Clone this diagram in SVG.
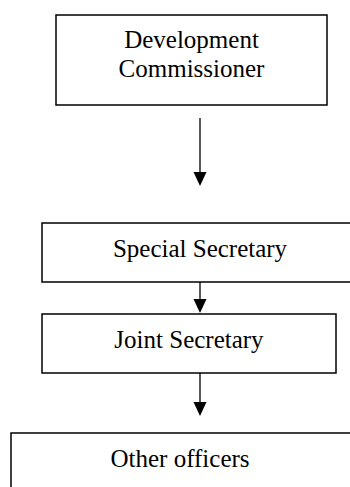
<svg xmlns="http://www.w3.org/2000/svg" width="350" height="487" viewBox="0 0 350 487">
<defs>
<style>
.box{fill:#fff;stroke:#000;stroke-width:1.5}
.lbl{font-family:"Liberation Serif","Times New Roman",serif;font-size:25px;fill:#000;text-anchor:middle}
.con{stroke:#000;stroke-width:1.3;fill:none}
.head{fill:#000}
</style>
</defs>
<rect width="350" height="487" fill="#fff"/>
<g id="connectors">
<line class="con" x1="200" y1="118" x2="200" y2="176"/>
<path class="head" d="M193.5,172 L206.5,172 L200,186 Z"/>
<line class="con" x1="200" y1="282" x2="200" y2="303"/>
<path class="head" d="M193.5,299 L206.5,299 L200,313 Z"/>
<line class="con" x1="200" y1="371" x2="200" y2="406"/>
<path class="head" d="M193.5,402 L206.5,402 L200,416 Z"/>
</g>
<g id="n1"><rect class="box" x="56" y="15" width="271" height="90"/><text class="lbl" x="191.5" y="48">Development</text><text class="lbl" x="191.5" y="77">Commissioner</text></g>
<g id="n2"><rect class="box" x="42" y="223" width="316" height="59"/><text class="lbl" x="200" y="257">Special Secretary</text></g>
<g id="n3"><rect class="box" x="42" y="314" width="294" height="59"/><text class="lbl" x="189" y="348">Joint Secretary</text></g>
<g id="n4"><rect class="box" x="11" y="433" width="345" height="70"/><text class="lbl" x="180" y="467">Other officers</text></g>
</svg>
